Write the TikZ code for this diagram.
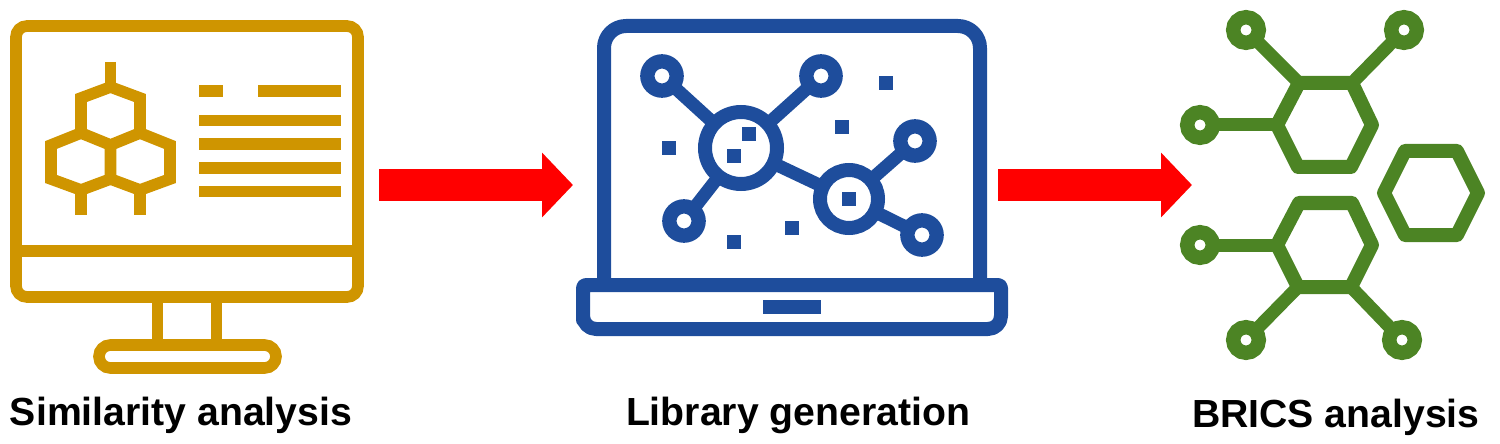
\documentclass[tikz,border=0pt]{standalone}
\usepackage{fontspec}
\setmainfont{Liberation Sans}
\usetikzlibrary{arrows.meta}
\definecolor{gold}{HTML}{CF9500}
\definecolor{navy}{HTML}{1E4D9C}
\definecolor{leaf}{HTML}{4C8424}
\tikzset{
  goldline/.style={draw=gold,line width=5.8pt,line join=miter},
  goldbar/.style={fill=gold},
  navyline/.style={draw=navy,line width=7pt,line join=round},
  navybit/.style={fill=navy,minimum size=7pt,inner sep=0,outer sep=0,rectangle},
  netlink/.style={draw=navy,line width=6.5pt},
  hubbig/.style={circle,draw=navy,line width=7pt,minimum size=36pt,inner sep=0,outer sep=0},
  hubsmall/.style={circle,draw=navy,line width=7pt,minimum size=29pt,inner sep=0,outer sep=0},
  netend/.style={circle,draw=navy,line width=7.2pt,minimum size=14.6pt,inner sep=0,outer sep=0},
  greenend/.style={circle,draw=leaf,line width=7.2pt,minimum size=12.8pt,inner sep=0,outer sep=0},
  greenline/.style={draw=leaf,line width=7pt,line join=round},
  greenlink/.style={draw=leaf,line width=6.5pt},
  bigarrow/.style={draw=red,line width=16pt,-{Triangle[length=15.5pt,width=31.5pt,fill=red]}},
  caption/.style={font=\fontsize{19.6}{22}\selectfont\bfseries,text=black,anchor=base west,inner sep=0,outer sep=0}
}
\begin{document}
\begin{tikzpicture}[x=0.5pt,y=-0.5pt]
\useasboundingbox (0,0) rectangle (1500,444);
% monitor
\draw[goldline,rounded corners=5.5pt] (16,26) rectangle (358,297);
\draw[goldline] (16,251) -- (358,251);
\draw[goldline] (157.5,297) -- (157.5,345);
\draw[goldline] (216.5,297) -- (216.5,345);
\draw[goldline,rounded corners=5.7pt] (99,345) rectangle (276,368);
\draw[goldline,line cap=butt] (110.5,62) -- (110.5,87);
\draw[goldline] (110.5,87) -- (140,98) -- (140,133) -- (110.5,145) -- (81,133) -- (81,98) -- cycle;
\draw[goldline] (81,133) -- (51,145) -- (51,179) -- (81,190) -- (110.5,179) -- (110.5,145);
\draw[goldline] (140,133) -- (170,145) -- (170,179) -- (140,190) -- (110.5,179);
\draw[goldline] (81,190) -- (81,215);
\draw[goldline] (140,190) -- (140,215);
\fill[goldbar] (199,85) rectangle (223,97);
\fill[goldbar] (258,85) rectangle (341,97);
\fill[goldbar] (199,115) rectangle (341,126);
\fill[goldbar] (199,138) rectangle (341,150);
\fill[goldbar] (199,162) rectangle (341,174);
\fill[goldbar] (199,186) rectangle (341,197);
% arrows
\coordinate (a1s) at (379,185); \coordinate (a1e) at (573,185);
\coordinate (a2s) at (998,185); \coordinate (a2e) at (1192,185);
\draw[bigarrow] (a1s) -- (a1e);
\draw[bigarrow] (a2s) -- (a2e);
% laptop
\draw[navyline,rounded corners=11pt] (604,285) -- (604,26) -- (980,26) -- (980,285);
\draw[navyline] (583,307) [rounded corners=1.5pt] -- (583,285) -- (1001,285) -- (1001,307) [rounded corners=6.5pt] -- (1001,329) -- (583,329) -- cycle;
\fill[navy] (763,300) rectangle (821,314);
\node[hubbig] (hub) at (741,148) {};
\node[hubsmall] (sub) at (849,199) {};
\node[netend] (n1) at (662,76) {};
\node[netend] (n2) at (821,76) {};
\node[netend] (n3) at (684,221) {};
\node[netend] (n4) at (915,141) {};
\node[netend] (n5) at (922,235) {};
\draw[netlink] (hub) -- (n1);
\draw[netlink] (hub) -- (n2);
\draw[netlink] (hub) -- (n3);
\draw[netlink] (hub) -- (sub);
\draw[netlink] (sub) -- (n4);
\draw[netlink] (sub) -- (n5);
\node[navybit] (b1) at (886,83) {};
\node[navybit] (b2) at (842,127) {};
\node[navybit] (b3) at (749,134) {};
\node[navybit] (b4) at (734,156) {};
\node[navybit] (b5) at (669,148) {};
\node[navybit] (b6) at (849,199) {};
\node[navybit] (b7) at (792,228) {};
\node[navybit] (b8) at (734,242) {};
% molecules
\coordinate (h1a) at (1299,83); \coordinate (h1b) at (1352,83);
\coordinate (h1c) at (1372,125); \coordinate (h1d) at (1351,167);
\coordinate (h1e) at (1298,167); \coordinate (h1f) at (1277,125);
\draw[greenline] (h1a) -- (h1b) -- (h1c) -- (h1d) -- (h1e) -- (h1f) -- cycle;
\coordinate (h2a) at (1299,203); \coordinate (h2b) at (1352,203);
\coordinate (h2c) at (1372,245); \coordinate (h2d) at (1351,287);
\coordinate (h2e) at (1298,287); \coordinate (h2f) at (1277,245);
\draw[greenline] (h2a) -- (h2b) -- (h2c) -- (h2d) -- (h2e) -- (h2f) -- cycle;
\draw[greenline] (1405,151) -- (1457,151) -- (1478,193) -- (1457,235) -- (1405,235) -- (1384,193) -- cycle;
\node[greenend] (g1) at (1246,30) {};
\node[greenend] (g2) at (1404,30) {};
\node[greenend] (g3) at (1200,125) {};
\node[greenend] (g4) at (1200,245) {};
\node[greenend] (g5) at (1246,340) {};
\node[greenend] (g6) at (1402,340) {};
\draw[greenlink] (g1) -- (h1a);
\draw[greenlink] (g2) -- (h1b);
\draw[greenlink] (g3) -- (h1f);
\draw[greenlink] (g4) -- (h2f);
\draw[greenlink] (g5) -- (h2e);
\draw[greenlink] (g6) -- (h2d);
% captions
\node[caption] (c1) at (10,425) {Similarity analysis};
\node[caption] (c2) at (626,425) {Library generation};
\node[caption] (c3) at (1192,427) {BRICS analysis};
\end{tikzpicture}
\end{document}
